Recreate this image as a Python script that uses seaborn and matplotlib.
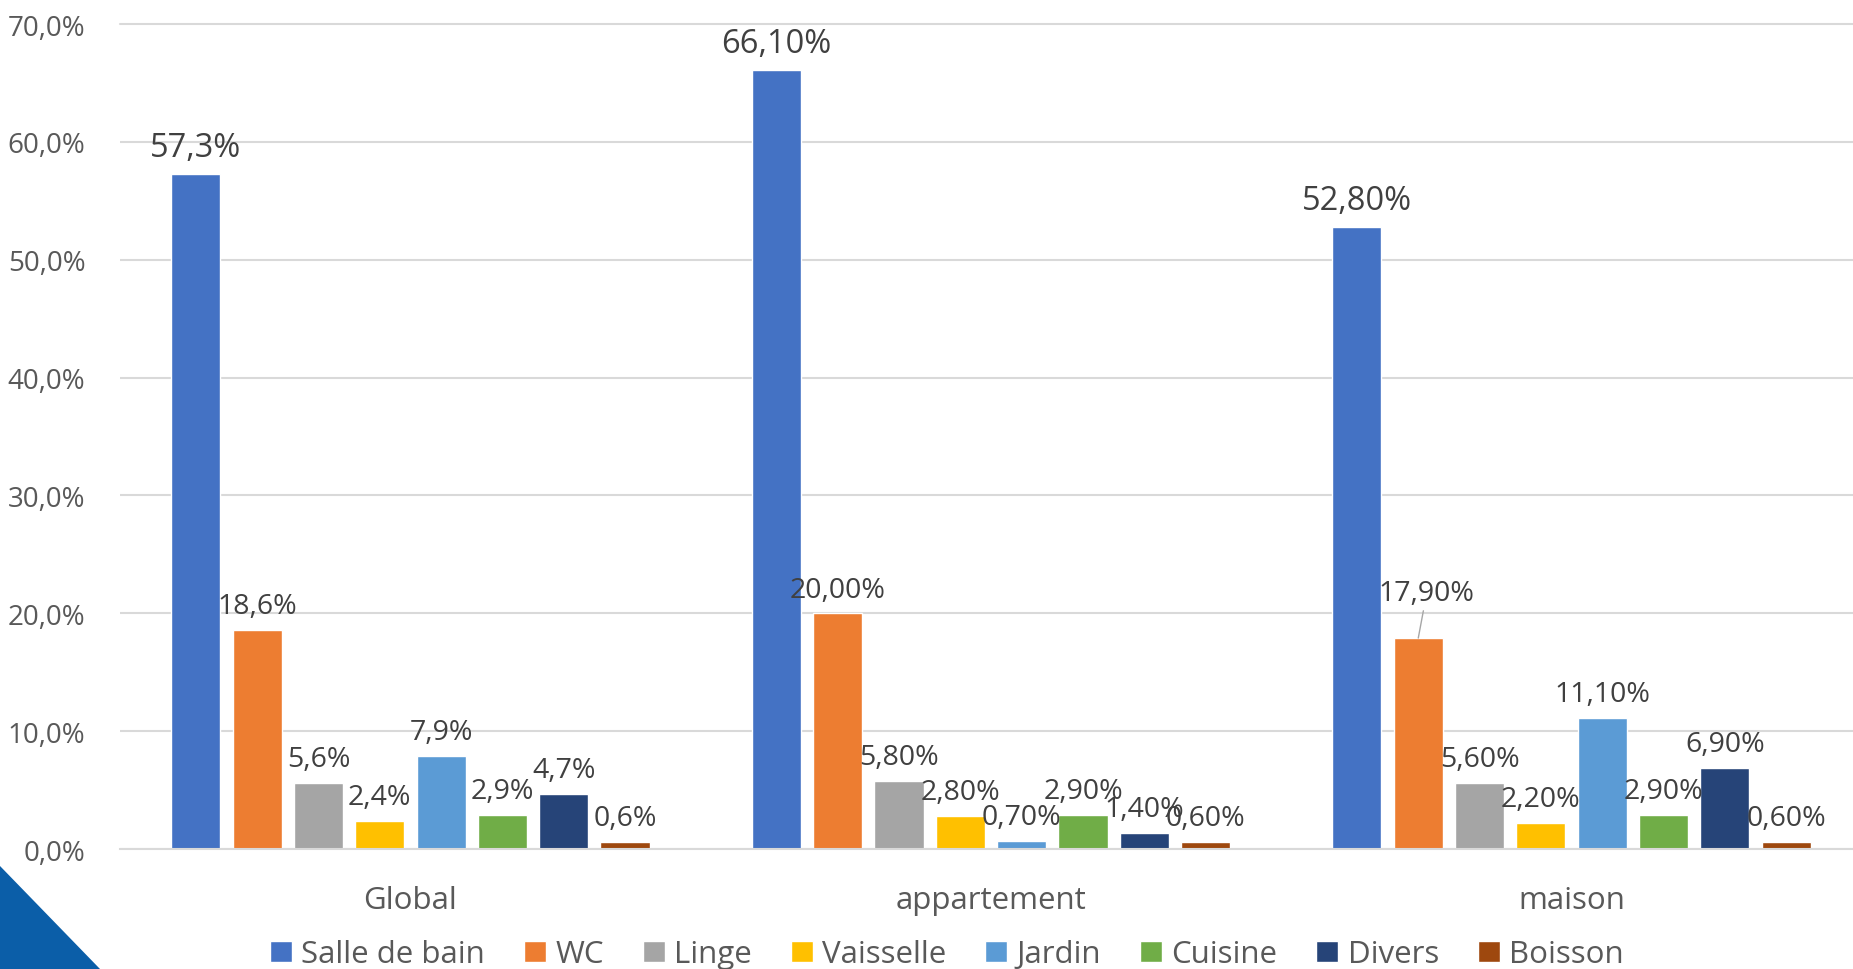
import pandas as pd
import numpy as np
import matplotlib.pyplot as plt
import seaborn as sns
from matplotlib.patches import Polygon

# data
categories = ['Global', 'appartement', 'maison']
usages = ['Salle de bain', 'WC', 'Linge', 'Vaisselle', 'Jardin', 'Cuisine', 'Divers', 'Boisson']
global_vals = [57.3, 18.6, 5.6, 2.4, 7.9, 2.9, 4.7, 0.6]
appart_vals = [66.1, 20.0, 5.8, 2.8, 0.7, 2.9, 1.4, 0.6]
maison_vals = [52.8, 17.9, 5.6, 2.2, 11.1, 2.9, 6.9, 0.6]
decimals = {'Global': 1, 'appartement': 2, 'maison': 2}
y_ticks = [0, 10, 20, 30, 40, 50, 60, 70]

colors = ['#4472C4', '#ED7D31', '#A5A5A5', '#FFC000', '#5B9BD5', '#70AD47', '#264478', '#9E480E']

rows = []
for cat, vals in zip(categories, [global_vals, appart_vals, maison_vals]):
    for u, v in zip(usages, vals):
        rows.append({'cat': cat, 'usage': u, 'val': v})
df = pd.DataFrame(rows)

sns.set_style('white')
plt.rcParams['font.family'] = ['Open Sans', 'DejaVu Sans']

fig = plt.figure(figsize=(18.53, 9.70), dpi=100)
ax = fig.add_axes([0.0648, 0.1237, 0.9400, 0.8505])

sns.barplot(data=df, x='cat', y='val', hue='usage', order=categories, hue_order=usages,
            palette=colors, width=0.845, gap=0.2, saturation=1, ax=ax, legend=True,
            errorbar=None)

ax.set_ylim(0, 70)
ax.set_xlim(-0.5, 2.5)
ax.set_yticks(y_ticks)
ax.set_yticklabels([f'{t},0%' for t in y_ticks], fontsize=20, color='#595959')
ax.tick_params(axis='y', length=0, pad=25)
ax.tick_params(axis='x', length=0, pad=26, labelsize=22.5, labelcolor='#595959')
ax.set_xlabel('')
ax.set_ylabel('')
ax.yaxis.grid(True, color='#D9D9D9', lw=1.5)
ax.set_axisbelow(True)
for s in ['top', 'right', 'left']:
    ax.spines[s].set_visible(False)
ax.spines['bottom'].set_color('#D9D9D9')
ax.spines['bottom'].set_linewidth(1.5)
ax.get_ygridlines()[-1].set_clip_on(False)

# data labels
for usage, cont in zip(usages, ax.containers):
    for cat, bar in zip(categories, cont):
        v = bar.get_height()
        txt = f'{v:.{decimals[cat]}f}%'.replace('.', ',')
        x = bar.get_x() + bar.get_width() / 2
        size = 23.5 if usage == 'Salle de bain' else 20.5
        if usage == 'WC' and cat == 'maison':
            ax.annotate(txt, (x, v), xytext=(6, 22), textcoords='offset points',
                        ha='center', va='bottom', fontsize=size, color='#404040',
                        arrowprops=dict(arrowstyle='-', color='#A6A6A6', lw=1,
                                        shrinkA=0, shrinkB=0))
        else:
            ax.annotate(txt, (x, v), xytext=(0, 7), textcoords='offset points',
                        ha='center', va='bottom', fontsize=size, color='#404040')

leg = ax.legend(loc='center', bbox_to_anchor=(0.511, 0.015), bbox_transform=fig.transFigure,
                ncol=8, frameon=False, fontsize=22.5, handlelength=0.7, handleheight=0.7,
                handletextpad=0.3, columnspacing=1.25, labelcolor='#595959')

# decorative blue corner
tri = Polygon([[0, 0], [0, 103 / 970], [100 / 1853, 0]], closed=True,
              transform=fig.transFigure, facecolor='#0B5EA8', edgecolor='none', zorder=-1)
fig.patches.append(tri)

fig.savefig('out.png', dpi=100)
